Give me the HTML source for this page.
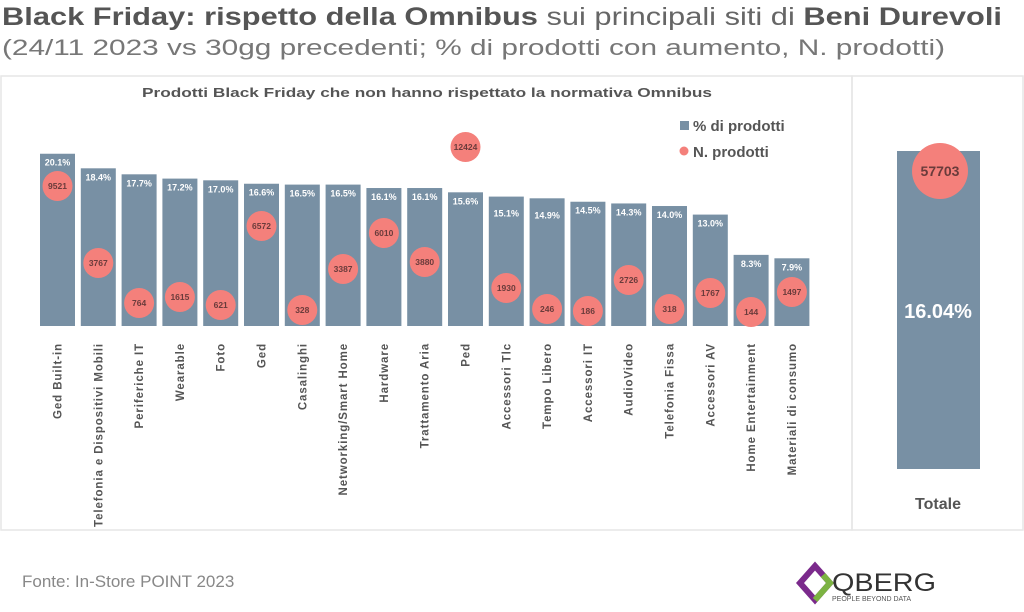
<!DOCTYPE html>
<html><head><meta charset="utf-8"><style>
body{margin:0;background:#fff;width:1024px;height:607px;overflow:hidden;font-family:"Liberation Sans",sans-serif}
</style></head><body>
<svg width="1024" height="607" xmlns="http://www.w3.org/2000/svg" font-family="Liberation Sans, sans-serif">
<text x="2" y="25" font-size="25" fill="#555" textLength="1000" lengthAdjust="spacingAndGlyphs"><tspan font-weight="bold">Black Friday: rispetto della Omnibus</tspan><tspan fill="#666"> sui principali siti di </tspan><tspan font-weight="bold">Beni Durevoli</tspan></text>
<text x="2" y="55" font-size="22" fill="#777" textLength="943" lengthAdjust="spacingAndGlyphs">(24/11 2023 vs 30gg precedenti; % di prodotti con aumento, N. prodotti)</text>
<rect x="1" y="76" width="851" height="454" fill="none" stroke="#e6e6e6" stroke-width="1.5"/>
<rect x="852" y="76" width="171" height="454" fill="none" stroke="#e6e6e6" stroke-width="1.5"/>
<text x="427" y="97" font-size="13" font-weight="bold" fill="#555" text-anchor="middle" textLength="570" lengthAdjust="spacingAndGlyphs">Prodotti Black Friday che non hanno rispettato la normativa Omnibus</text>
<rect x="680" y="121" width="9" height="9" fill="#7890a4"/>
<text x="693" y="131" font-size="15" font-weight="bold" fill="#555">% di prodotti</text>
<circle cx="684" cy="151" r="4.5" fill="#f4807b"/>
<text x="693" y="157" font-size="15" font-weight="bold" fill="#555">N. prodotti</text>
<g id="bars"></g>
<rect x="897" y="151" width="83" height="318" fill="#7890a4"/>
<circle cx="940" cy="171" r="28" fill="#f4807b"/>
<text x="940" y="176" font-size="14" font-weight="bold" fill="#6a3b3b" text-anchor="middle">57703</text>
<text x="938" y="318" font-size="20" font-weight="bold" fill="#fff" text-anchor="middle">16.04%</text>
<text x="938" y="509" font-size="16" font-weight="bold" fill="#555" text-anchor="middle">Totale</text>
<text x="22" y="587" font-size="17" fill="#888">Fonte: In-Store POINT 2023</text>
<g transform="translate(815,583)">
<path d="M-15,0 L0,-17 L15,0 L0,17 Z" fill="none" stroke="#7b2a8c" stroke-width="6"/>
<path d="M0,17 L15,0 L8,-8" fill="none" stroke="#7cb342" stroke-width="6"/>
</g>
<text x="832" y="591" font-size="25" fill="#333" textLength="104" lengthAdjust="spacingAndGlyphs">QBERG</text>
<text x="832" y="601" font-size="7" fill="#555">PEOPLE BEYOND DATA</text>
</svg>
<script>
var d=[["Ged Built-in",20.1,9521,186],["Telefonia e Dispositivi Mobili",18.4,3767,263],["Periferiche IT",17.7,764,303],["Wearable",17.2,1615,297],["Foto",17.0,621,305],["Ged",16.6,6572,226],["Casalinghi",16.5,328,310],["Networking/Smart Home",16.5,3387,269],["Hardware",16.1,6010,233],["Trattamento Aria",16.1,3880,262],["Ped",15.6,12424,147],["Accessori Tlc",15.1,1930,288],["Tempo Libero",14.9,246,309],["Accessori IT",14.5,186,311],["AudioVideo",14.3,2726,280],["Telefonia Fissa",14.0,318,309],["Accessori AV",13.0,1767,293],["Home Entertainment",8.3,144,312],["Materiali di consumo",7.9,1497,292]];
var s="";
d.forEach(function(r,i){var x=40+40.8*i,h=r[1]*8.57,t=326-h,c=x+17.5;
s+='<rect x="'+x+'" y="'+t+'" width="35" height="'+h+'" fill="#7890a4"/>';
s+='<text x="'+c+'" y="'+(t+(r[1]<15.5&&r[1]>14.6?20:12))+'" font-size="9" font-weight="bold" fill="#fff" text-anchor="middle">'+r[1].toFixed(1)+'%</text>';
s+='<circle cx="'+c+'" cy="'+r[3]+'" r="15" fill="#f4807b"/>';
s+='<text x="'+c+'" y="'+(r[3]+3)+'" font-size="8.5" font-weight="bold" fill="#6a3b3b" text-anchor="middle">'+r[2]+'</text>';
s+='<text transform="translate('+(c+4)+',343) rotate(-90)" font-size="11.5" font-weight="bold" fill="#555" text-anchor="end" letter-spacing="0.9">'+r[0]+'</text>';});
document.getElementById("bars").innerHTML=s;
</script>
</body></html>
